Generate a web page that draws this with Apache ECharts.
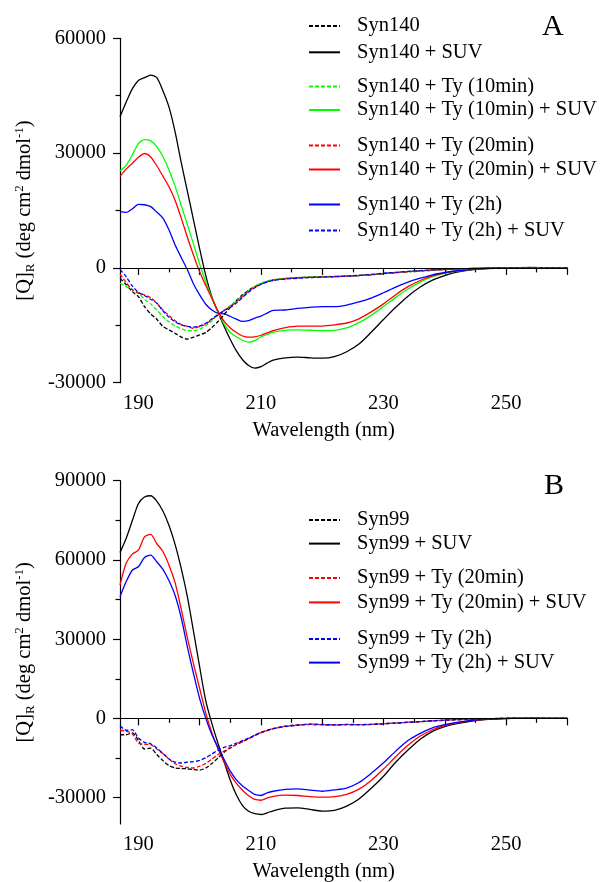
<!DOCTYPE html>
<html>
<head>
<meta charset="utf-8">
<script src="https://cdn.jsdelivr.net/npm/echarts@6/dist/echarts.min.js"></script>
<style>html,body{margin:0;padding:0;background:#fff}#c{width:600px;height:882px}</style>
</head>
<body>
<div id="c"></div>
<script>
// Shared wavelength grid (nm)
var wavelengthNm = [187,188,189,190,191,192,193,194,195,196,197,198,199,200,201,202,203,204,205,206,207,208,209,210,211,212,214,216,218,220,222,224,226,228,230,232,234,236,238,240,242,245,248,251,254,257,260];

// Panel A (Syn140)
var syn140 = [-2700,-4400,-6200,-7500,-10100,-12000,-13400,-15300,-16200,-17100,-18100,-18600,-18100,-17500,-16900,-15600,-14000,-12200,-10300,-8500,-7000,-5800,-4900,-4200,-3600,-3150,-2800,-2550,-2400,-2300,-2250,-2150,-2000,-1800,-1500,-1250,-1000,-800,-600,-420,-300,-140,-50,0,0,0,0];
var syn140Suv = [39500,43300,46800,49000,49700,50400,49700,46300,42000,35500,27500,20000,12500,5000,-2000,-7600,-11600,-15300,-18700,-21700,-24000,-25500,-26200,-25800,-24900,-24100,-23500,-23300,-23500,-23600,-23200,-21900,-19900,-16800,-13500,-10300,-7400,-5000,-3200,-2000,-1100,-400,-100,0,100,0,0];
var syn140Ty10 = [-4000,-4900,-5600,-6600,-8200,-9400,-11000,-12700,-14100,-15200,-15900,-16400,-16400,-16000,-15100,-13800,-12300,-11000,-9900,-8700,-7200,-5900,-4800,-4000,-3400,-3050,-2700,-2500,-2400,-2250,-2200,-2100,-1950,-1750,-1450,-1200,-950,-750,-550,-400,-280,-130,-40,0,0,0,0];
var syn140Ty10Suv = [25400,26800,29500,32500,33500,33200,31700,29100,25600,21300,16300,11300,6200,1000,-3700,-7800,-11500,-14700,-16900,-18000,-18900,-19400,-19000,-18000,-17400,-16800,-16300,-16200,-16300,-16400,-16300,-15700,-14300,-12400,-10100,-7700,-5500,-3700,-2300,-1400,-850,-300,-80,0,0,0,0];
var syn140Ty20 = [-1600,-3800,-5700,-6600,-7050,-7750,-9200,-11000,-12500,-13800,-14800,-15300,-15800,-15300,-14700,-13500,-12300,-11100,-10100,-8900,-7400,-6100,-5000,-4200,-3600,-3200,-2800,-2600,-2450,-2350,-2300,-2200,-2000,-1800,-1500,-1250,-1000,-800,-600,-420,-300,-140,-50,0,0,0,0];
var syn140Ty20Suv = [23900,25800,27300,28900,29900,29000,26700,24000,21200,17600,13000,8000,3300,-1000,-4600,-8000,-11300,-14000,-15700,-16900,-17800,-18100,-18000,-17600,-17000,-16400,-15600,-15200,-15200,-15200,-14900,-14400,-13300,-11500,-9400,-7000,-4900,-3300,-2100,-1300,-800,-300,-80,0,0,0,0];
var syn140Ty2h = [14700,14500,15400,16600,16500,16000,14600,13000,9900,6000,2700,-500,-4200,-7050,-9500,-11000,-11850,-12000,-12700,-13400,-14000,-13800,-13100,-12600,-11800,-11100,-11000,-10600,-10300,-10100,-10100,-9700,-8900,-7900,-6500,-5000,-3700,-2700,-1800,-1200,-750,-300,-80,0,0,0,0];
var syn140Ty2hSuv = [-400,-2300,-4700,-6400,-7200,-8200,-9200,-11200,-12900,-14100,-14900,-15300,-15500,-15200,-14500,-13300,-12200,-11200,-10300,-9200,-7700,-6300,-5200,-4300,-3700,-3300,-2900,-2700,-2550,-2400,-2300,-2150,-1950,-1700,-1400,-1150,-900,-700,-500,-350,-250,-120,-40,0,0,0,0];

// Panel B (Syn99)
var syn99 = [-6200,-6200,-5500,-8300,-11600,-11300,-13700,-16000,-17900,-18800,-19000,-19100,-19400,-19600,-18800,-17100,-15000,-12800,-11200,-9900,-8800,-7700,-6500,-5400,-4600,-3900,-2900,-2500,-2300,-2400,-2500,-2350,-2400,-2300,-2050,-1800,-1500,-1250,-950,-700,-480,-250,-80,0,0,0,0];
var syn99Suv = [62800,68100,74800,81300,83800,84300,82300,78500,73000,65800,56700,46000,32900,19500,6600,-2000,-9500,-16500,-23400,-29000,-33000,-35200,-36100,-36400,-35800,-35000,-34000,-33900,-34500,-35100,-34800,-33200,-30500,-26500,-21900,-16600,-12000,-7900,-4900,-3100,-2000,-800,-250,0,0,0,0];
var syn99Ty20 = [-4500,-4900,-5800,-9300,-9800,-9900,-11600,-13300,-15400,-17200,-18100,-18600,-18800,-18100,-17100,-15400,-13700,-12400,-11000,-9800,-8700,-7700,-6500,-5400,-4600,-3900,-2950,-2550,-2300,-2400,-2500,-2350,-2400,-2300,-2050,-1800,-1500,-1250,-950,-700,-480,-250,-80,0,0,0,0];
var syn99Ty20Suv = [50500,58700,62200,63700,68700,69700,66200,63200,58000,51300,41300,30500,20600,11300,2000,-5500,-11600,-16600,-21300,-24600,-27200,-29300,-30700,-31000,-30200,-29500,-29100,-29200,-29600,-29800,-29600,-28800,-26800,-23500,-19200,-14500,-10200,-6700,-4300,-2700,-1700,-700,-200,0,0,0,0];
var syn99Ty2h = [-2800,-4500,-4300,-7400,-9100,-9600,-11200,-13300,-15400,-16600,-16900,-16600,-16400,-15900,-14900,-13500,-12000,-11000,-10300,-9400,-8400,-7500,-6300,-5300,-4500,-3900,-3100,-2600,-2150,-2300,-2450,-2300,-2350,-2250,-2000,-1750,-1450,-1200,-900,-650,-450,-230,-70,50,0,0,0];
var syn99Ty2hSuv = [46100,51700,56100,57400,60900,61800,59300,56400,52100,46500,38000,27000,16900,7500,0,-6200,-11000,-15600,-20000,-23300,-25600,-27300,-28800,-29200,-28200,-27600,-26900,-26700,-27200,-27600,-27100,-26400,-24300,-20800,-16800,-12400,-8400,-5700,-3600,-2400,-1500,-600,-150,0,100,0,0];

// Tick values
var xMajorTicks = [190,200,210,220,230,240,250,260];
var xLabels = [190,210,230,250];
var xMinorTicks = [195,205,215,225,235,245,255];
var yTicksA = [-30000,0,30000,60000];
var yMinorA = [-15000,15000,45000];
var yTicksB = [-30000,0,30000,60000,90000];
var yMinorB = [-15000,15000,45000,75000];

var FONT = 'Liberation Serif';
var FS = 20.5;
var BLACK = '#000000', GREEN = '#00ff00', RED = '#ff0000', BLUE = '#0000ff';

function pairs(vals){ return wavelengthNm.map(function(w,i){ return [w, vals[i]]; }); }
function line(name, vals, color, dashed, gi, zeroLine){
  var s = {
    name: name, type: 'line', xAxisIndex: gi*2, yAxisIndex: gi*2,
    data: pairs(vals), symbol: 'none', smooth: 0.25,
    lineStyle: { color: color, width: 1.3, type: dashed ? [4,2] : 'solid' },
    itemStyle: { color: color },
    emphasis: { disabled: true }, animation: false
  };
  if (zeroLine) {
    s.markLine = { silent: true, symbol: ['none','none'], label: { show: false },
      lineStyle: { color: '#000', width: 1.2, type: 'solid' }, data: [{ yAxis: 0 }], animation: false };
  }
  return s;
}

var labelStyle = { fontFamily: FONT, fontSize: FS, color: '#000' };
function xMain(gi){
  return { gridIndex: gi, type: 'value', min: 187, max: 260,
    axisLine: { show: true, lineStyle: { color: '#000', width: 1.2 } },
    axisTick: { show: true, customValues: xMajorTicks, length: 7, lineStyle: { color: '#000', width: 1.2 } },
    axisLabel: Object.assign({ customValues: xLabels, margin: 10, formatter: function(v){ return String(v); } }, labelStyle),
    splitLine: { show: false },
    name: 'Wavelength (nm)', nameLocation: 'middle', nameGap: 37,
    nameTextStyle: { fontFamily: FONT, fontSize: FS, color: '#000', padding: [0, 40, 0, 0] }
  };
}
function xMinor(gi){
  return { gridIndex: gi, type: 'value', min: 187, max: 260, position: 'bottom',
    axisLine: { show: false }, axisLabel: { show: false }, splitLine: { show: false },
    axisTick: { show: true, customValues: xMinorTicks, length: 4.5, lineStyle: { color: '#000', width: 1.2 } } };
}
var yName = '{a|[Q]}{s|R}{a| (deg cm}{p|2}{a| dmol}{p|-1}{a|)}';
function yMain(gi, mn, mx, ticks){
  return { gridIndex: gi, type: 'value', min: mn, max: mx,
    axisLine: { show: true, lineStyle: { color: '#000', width: 1.2 } },
    axisTick: { show: true, customValues: ticks, length: 7, lineStyle: { color: '#000', width: 1.2 } },
    axisLabel: Object.assign({ customValues: ticks, margin: 14, formatter: function(v){ return String(v); } }, labelStyle),
    splitLine: { show: false },
    name: yName, nameLocation: 'middle', nameGap: 80,
    nameTextStyle: { rich: {
      a: { fontFamily: FONT, fontSize: FS, color: '#000', lineHeight: 24, verticalAlign: 'middle' },
      s: { fontFamily: FONT, fontSize: 13, color: '#000', lineHeight: 13, verticalAlign: 'bottom' },
      p: { fontFamily: FONT, fontSize: 13, color: '#000', lineHeight: 13, verticalAlign: 'top' }
    } }
  };
}
function yMinor(gi, mn, mx, ticks){
  return { gridIndex: gi, type: 'value', min: mn, max: mx, position: 'left',
    axisLine: { show: false }, axisLabel: { show: false }, splitLine: { show: false },
    axisTick: { show: true, customValues: ticks, length: 4.5, lineStyle: { color: '#000', width: 1.2 } } };
}
function legend(names, top, gap){
  return { data: names, orient: 'vertical', left: 308, top: top, itemGap: gap, padding: 0,
    itemWidth: 31, itemHeight: 14, selectedMode: false,
    itemStyle: { opacity: 0 }, lineStyle: { width: 2 },
    textStyle: { fontFamily: FONT, fontSize: FS, color: '#000', lineHeight: 20, padding: [0, 0, 0, 12] } };
}

var chart = echarts.init(document.getElementById('c'), null, { renderer: 'canvas' });
chart.setOption({
  animation: false,
  backgroundColor: '#fff',
  title: [
    { text: 'A', left: 542, top: 12, padding: 0, textStyle: { fontFamily: FONT, fontSize: 30, fontWeight: 'normal', color: '#000' } },
    { text: 'B', left: 544, top: 471, padding: 0, textStyle: { fontFamily: FONT, fontSize: 30, fontWeight: 'normal', color: '#000' } }
  ],
  grid: [
    { left: 120, top: 38.3, width: 447.3, height: 344.4, containLabel: false, outerBoundsMode: 'none' },
    { left: 120, top: 480.7, width: 447.3, height: 343.3, containLabel: false, outerBoundsMode: 'none' }
  ],
  xAxis: [ xMain(0), xMinor(0), xMain(1), xMinor(1) ],
  yAxis: [ yMain(0, -30000, 60000, yTicksA), yMinor(0, -30000, 60000, yMinorA),
           yMain(1, -40000, 90000, yTicksB), yMinor(1, -40000, 90000, yMinorB) ],
  legend: [
    legend(['Syn140', 'Syn140 + SUV'], 15.5, 5.3),
    legend(['Syn140 + Ty (10min)', 'Syn140 + Ty (10min) + SUV'], 76, 2.5),
    legend(['Syn140 + Ty (20min)', 'Syn140 + Ty (20min) + SUV'], 135, 3),
    legend(['Syn140 + Ty (2h)', 'Syn140 + Ty (2h) + SUV'], 194, 5),
    legend(['Syn99', 'Syn99 + SUV'], 509.5, 2.6),
    legend(['Syn99 + Ty (20min)', 'Syn99 + Ty (20min) + SUV'], 567.5, 3.4),
    legend(['Syn99 + Ty (2h)', 'Syn99 + Ty (2h) + SUV'], 628.5, 2.6)
  ],
  series: [
    line('Syn140 + SUV', syn140Suv, BLACK, false, 0, true),
    line('Syn140 + Ty (10min) + SUV', syn140Ty10Suv, GREEN, false, 0),
    line('Syn140 + Ty (20min) + SUV', syn140Ty20Suv, RED, false, 0),
    line('Syn140 + Ty (2h)', syn140Ty2h, BLUE, false, 0),
    line('Syn140', syn140, BLACK, true, 0),
    line('Syn140 + Ty (10min)', syn140Ty10, GREEN, true, 0),
    line('Syn140 + Ty (20min)', syn140Ty20, RED, true, 0),
    line('Syn140 + Ty (2h) + SUV', syn140Ty2hSuv, BLUE, true, 0),
    line('Syn99 + SUV', syn99Suv, BLACK, false, 1, true),
    line('Syn99 + Ty (20min) + SUV', syn99Ty20Suv, RED, false, 1),
    line('Syn99 + Ty (2h) + SUV', syn99Ty2hSuv, BLUE, false, 1),
    line('Syn99', syn99, BLACK, true, 1),
    line('Syn99 + Ty (20min)', syn99Ty20, RED, true, 1),
    line('Syn99 + Ty (2h)', syn99Ty2h, BLUE, true, 1)
  ]
});
</script>
</body>
</html>
